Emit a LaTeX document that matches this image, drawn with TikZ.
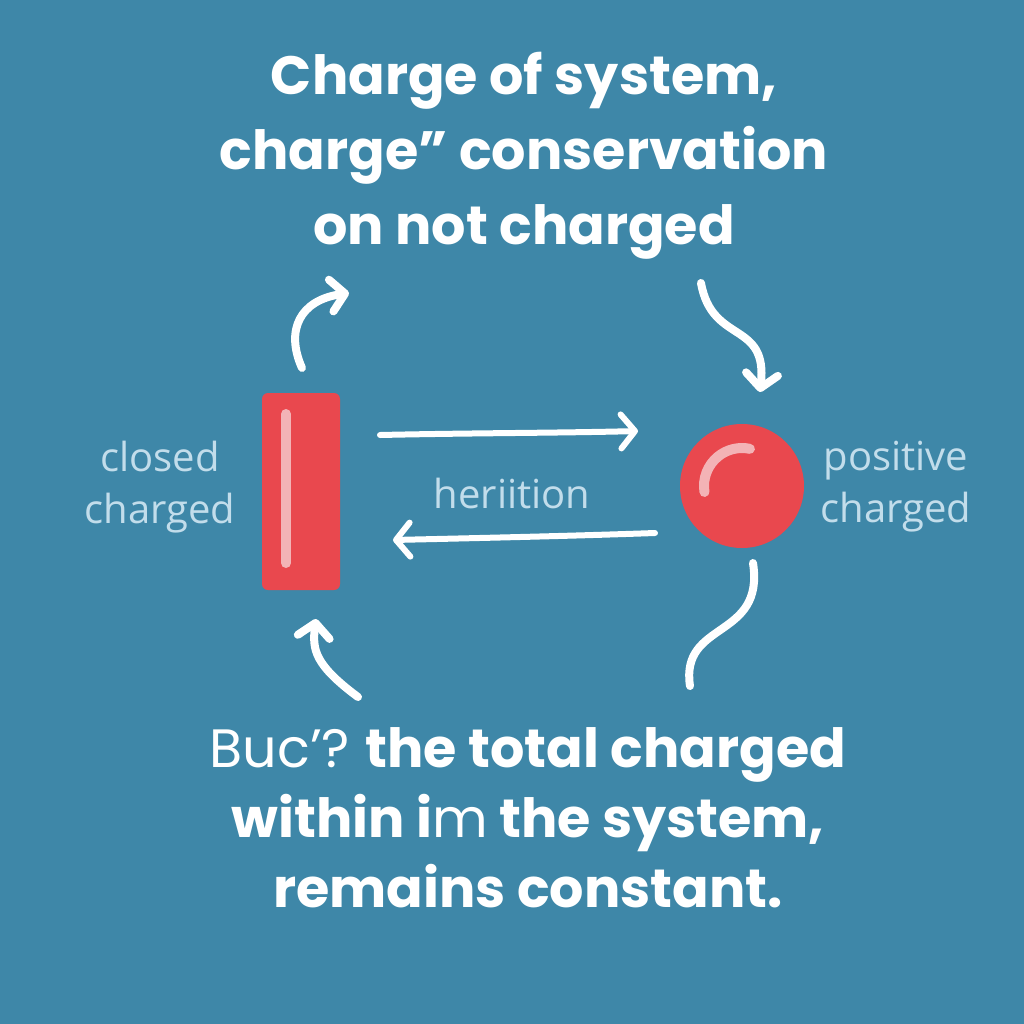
\documentclass[tikz,border=0pt]{standalone}
\usepackage{fontspec}
\setmainfont{Poppins}
\newfontfamily\labelfont{Open Sans}
\usetikzlibrary{arrows.meta}
\definecolor{bg}{HTML}{3E87A8}
\definecolor{lbl}{HTML}{C2DDEB}
\definecolor{redfill}{HTML}{E9484E}
\definecolor{pinkhl}{HTML}{F3B3B6}
\tikzset{
  titletext/.style={text=white, align=center, font=\fontsize{27}{37.5}\selectfont\bfseries},
  bottomtext/.style={text=white, align=center, font=\fontsize{27}{35}\selectfont\bfseries},
  sidelabel/.style={text=lbl, align=center, font=\labelfont\fontsize{20}{26}\selectfont},
  curvearrow/.style={draw=white, line width=4pt, line cap=round, line join=round,
    -{Straight Barb[length=7pt, width=16pt, round]}},
  curveline/.style={draw=white, line width=4pt, line cap=round},
  midarrow/.style={draw=white, line width=3pt, line cap=round, line join=round,
    -{Straight Barb[length=7pt, width=17pt, round]}},
}
\begin{document}
\begin{tikzpicture}[x=0.5pt, y=-0.5pt]
\fill[bg] (0,0) rectangle (1024,1024);
\useasboundingbox (0,0) rectangle (1024,1024);

% title
\node[titletext] (title) at (524,156) {Charge of system,\\charge” conservation\\on not charged};

% rectangle object
\node[fill=redfill, rounded corners=3pt, minimum width=39pt, minimum height=98.5pt, inner sep=0pt] (rod) at (301,491.5) {};
\draw[pinkhl, line width=5pt, line cap=round] (286,414) coordinate (hlA) -- (286,563) coordinate (hlB);

% circle object
\node[circle, fill=redfill, minimum size=62pt, inner sep=0pt] (ball) at (742,486) {};
\draw[pinkhl, line width=5pt, line cap=round] (ball.center) ++(171:38) arc[start angle=171, end angle=282, radius=38];

% side labels
\node[sidelabel] (left) at (160,487) {closed\\charged};
\node[sidelabel] (right) at (896,487) {positive\\charged};
\node[sidelabel] (mid) at (512,493) {heriition};

% middle arrows
\coordinate (r1) at (380,435);
\coordinate (r2) at (638,431);
\coordinate (l1) at (655,533);
\coordinate (l2) at (393,540);
\draw[midarrow] (r1) .. controls (470,433) and (560,433) .. (r2);
\draw[midarrow] (l1) .. controls (570,536) and (480,538) .. (l2);

% curved arrows
\coordinate (a1s) at (302,368);
\coordinate (a1e) at (349,293);
\draw[curvearrow] (a1s) .. controls (285,330) and (300,300) .. (a1e);

\coordinate (a2s) at (701,283);
\coordinate (a2e) at (760,392);
\draw[curvearrow] (a2s) .. controls (712,345) and (768,320) .. (a2e);

\coordinate (s1) at (753,563);
\coordinate (s2) at (690,686);
\draw[curveline] (s1) .. controls (765,640) and (680,620) .. (s2);

\coordinate (a4s) at (358,697);
\coordinate (a4e) at (316,619);
\draw[curvearrow] (a4s) .. controls (315,665) and (312,650) .. (a4e);

% bottom text
\node[bottomtext] (bottom) at (528,818) {{\mdseries Buc'?} the total charged\\within i{\mdseries m} the system,\\remains constant.};
\end{tikzpicture}
\end{document}
